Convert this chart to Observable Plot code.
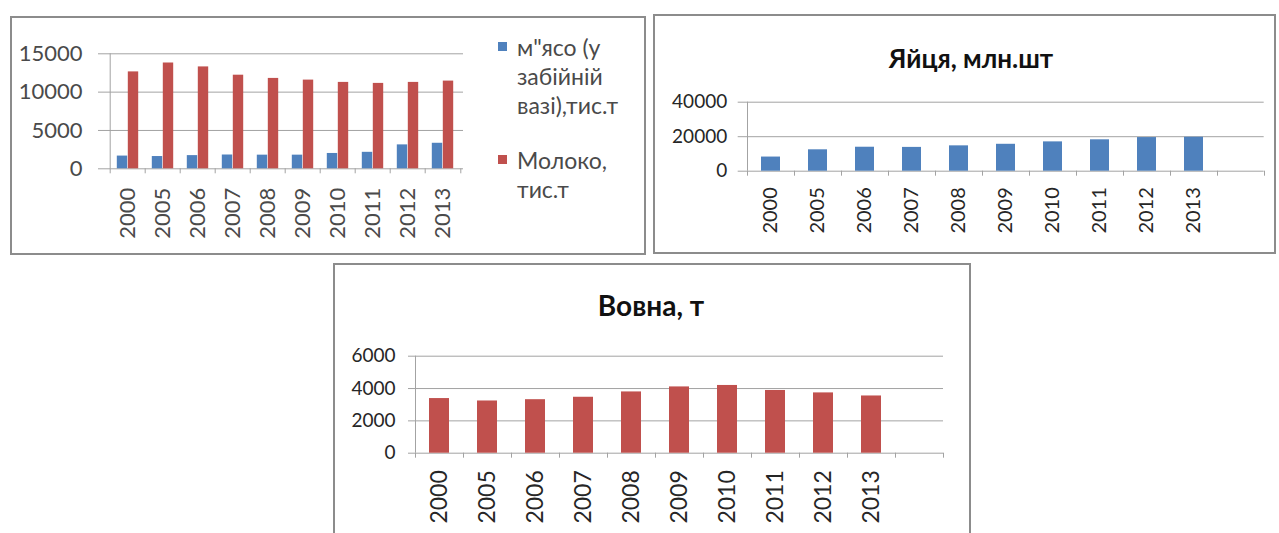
<!DOCTYPE html>
<html>
<head>
<meta charset="utf-8">
<script src="https://cdn.jsdelivr.net/npm/d3@7"></script>
<script src="https://cdn.jsdelivr.net/npm/@observablehq/plot@0.6"></script>
<style>
  html, body { margin: 0; padding: 0; background: #fff; }
  body { width: 1279px; height: 533px; overflow: hidden; position: relative; font-family: Lato, sans-serif; }
  .frame { position: absolute; border: 2px solid #8c8c8c; box-sizing: border-box; background: #fff; }
  .abs { position: absolute; }
  .legend { position: absolute; font-family: Lato, sans-serif; font-size: 23px; line-height: 29px; color: #4a4a4a; white-space: nowrap; }
  .swatch { position: absolute; width: 9px; height: 9px; }
  .title { position: absolute; font-family: Lato, sans-serif; font-weight: bold; color: #111; text-align: center; white-space: nowrap; }
</style>
</head>
<body>
<script>
// ---------- data ----------
const years = ["2000", "2005", "2006", "2007", "2008", "2009", "2010", "2011", "2012", "2013"];
const meat  = [1660, 1600, 1720, 1800, 1780, 1780, 2000, 2150, 3120, 3330];      // м"ясо, тис.т
const milk  = [12640, 13800, 13290, 12210, 11790, 11570, 11270, 11140, 11270, 11440]; // молоко, тис.т
const eggs  = [8200, 12400, 13900, 13800, 14700, 15600, 17000, 18200, 19500, 19700];  // яйця, млн.шт
const wool  = [3380, 3230, 3310, 3460, 3790, 4100, 4190, 3880, 3730, 3540];          // вовна, т

const meatLabel = ["м\"ясо (у", "забійній", "вазі),тис.т"];
const milkLabel = ["Молоко,", "тис.т"];
const eggsTitle = "Яйця, млн.шт";
const woolTitle = "Вовна, т";

const ticks1 = [0, 5000, 10000, 15000];
const ticks2 = [0, 20000, 40000];
const ticks3 = [0, 2000, 4000, 6000];

const blue = "#4f81bd", red = "#c0504d", grid = "#a3a3a3";

// ---------- helpers ----------
function place(node, left, top) {
  const d = document.createElement("div");
  d.className = "abs";
  d.style.left = left + "px";
  d.style.top = top + "px";
  d.appendChild(node);
  document.body.appendChild(d);
}
function frame(left, top, w, h) {
  const d = document.createElement("div");
  d.className = "frame";
  Object.assign(d.style, {left: left + "px", top: top + "px", width: w + "px", height: h + "px"});
  document.body.appendChild(d);
}
function textBlock(cls, lines, left, top, extra) {
  const d = document.createElement("div");
  d.className = cls;
  d.style.left = left + "px";
  d.style.top = top + "px";
  Object.assign(d.style, extra || {});
  lines.forEach((t, i) => { if (i) d.appendChild(document.createElement("br")); d.appendChild(document.createTextNode(t)); });
  document.body.appendChild(d);
}
function swatch(color, left, top) {
  const d = document.createElement("div");
  d.className = "swatch";
  Object.assign(d.style, {left: left + "px", top: top + "px", background: color});
  document.body.appendChild(d);
}
function frameMarks(domain, step, ymax) {
  return [
    Plot.ruleX([domain[0]], {x: d => d, dx: -step / 2, y1: 0, y2: ymax, stroke: grid}),
    Plot.ruleX(domain, {x: d => d, dx: -step / 2, y1: 0, y2: 0, insetBottom: -5, stroke: grid}),
    Plot.ruleX([domain[domain.length - 1]], {x: d => d, dx: step / 2, y1: 0, y2: 0, insetBottom: -5, stroke: grid})
  ];
}

// ---------- frames ----------
frame(10, 16, 636, 239);
frame(653, 14, 623, 240);
frame(333, 263, 638, 280);

// ---------- chart 1: meat & milk ----------
{
  const W = 460, H = 238, ml = 97, mr = 7, mt = 37.3, mb = 85.7;
  const step = (W - ml - mr) / years.length;
  const bw = 11, gap = (step - 2 * bw) / 2;
  const rows = years.map((y, i) => ({year: y, meat: meat[i], milk: milk[i]}));
  const p = Plot.plot({
    width: W, height: H, marginLeft: ml, marginRight: mr, marginTop: mt, marginBottom: mb,
    style: {fontFamily: "Lato, sans-serif", background: "transparent", overflow: "visible"},
    x: {domain: years, padding: 0, label: null},
    y: {domain: [0, 15000], label: null},
    marks: [
      Plot.ruleY(ticks1, {stroke: grid, insetLeft: -9}),
      ...frameMarks(years, step, 15000),
      Plot.barY(rows, {x: "year", y: "meat", fill: blue, insetLeft: gap, insetRight: step / 2}),
      Plot.barY(rows, {x: "year", y: "milk", fill: red, insetLeft: step / 2, insetRight: gap}),
      Plot.axisY(ticks1, {label: null, tickSize: 0, tickPadding: 25, tickFormat: d => String(d), fontSize: 22, color: "#4a4a4a"}),
      Plot.axisX(years, {label: null, tickSize: 0, tickPadding: 19, tickRotate: -90, fontSize: 22, color: "#4a4a4a"})
    ]
  });
  place(p, 10, 16);
  swatch(blue, 498, 42);
  textBlock("legend", meatLabel, 517, 33);
  swatch(red, 498, 155);
  textBlock("legend", milkLabel, 517, 146);
}

// ---------- chart 2: eggs ----------
{
  const W = 620, H = 240, ml = 93.7, mr = 9.3, mt = 87.7, mb = 83.3;
  const domain = [...years, ""];
  const step = (W - ml - mr) / domain.length;
  const bw = 19, gap = (step - bw) / 2;
  const rows = years.map((y, i) => ({year: y, value: eggs[i]}));
  const p = Plot.plot({
    width: W, height: H, marginLeft: ml, marginRight: mr, marginTop: mt, marginBottom: mb,
    style: {fontFamily: "Lato, sans-serif", background: "transparent", overflow: "visible"},
    x: {domain, padding: 0, label: null},
    y: {domain: [0, 40000], label: null},
    marks: [
      Plot.ruleY(ticks2, {stroke: grid, insetLeft: -9}),
      ...frameMarks(domain, step, 40000),
      Plot.barY(rows, {x: "year", y: "value", fill: blue, insetLeft: gap, insetRight: gap}),
      Plot.axisY(ticks2, {label: null, tickSize: 0, tickPadding: 20, tickFormat: d => String(d), fontSize: 19, color: "#262626"}),
      Plot.axisX(years, {label: null, tickSize: 0, tickPadding: 16, tickRotate: -90, fontSize: 20, color: "#262626"})
    ]
  });
  place(p, 653, 14);
  textBlock("title", [eggsTitle], 821, 45, {width: "300px", fontSize: "26px", lineHeight: "26px"});
}

// ---------- chart 3: wool ----------
{
  const W = 636, H = 270, ml = 82, mr = 26, mt = 92.7, mb = 80.3;
  const domain = [...years, ""];
  const step = (W - ml - mr) / domain.length;
  const bw = 20, gap = (step - bw) / 2;
  const rows = years.map((y, i) => ({year: y, value: wool[i]}));
  const p = Plot.plot({
    width: W, height: H, marginLeft: ml, marginRight: mr, marginTop: mt, marginBottom: mb,
    style: {fontFamily: "Lato, sans-serif", background: "transparent", overflow: "visible"},
    x: {domain, padding: 0, label: null},
    y: {domain: [0, 6000], label: null},
    marks: [
      Plot.ruleY(ticks3, {stroke: grid, insetLeft: -7}),
      ...frameMarks(domain, step, 6000),
      Plot.barY(rows, {x: "year", y: "value", fill: red, insetLeft: gap, insetRight: gap}),
      Plot.axisY(ticks3, {label: null, tickSize: 0, tickPadding: 20, tickFormat: d => String(d), fontSize: 19, color: "#262626"}),
      Plot.axisX(years, {label: null, tickSize: 0, tickPadding: 17, tickRotate: -90, fontSize: 23, color: "#262626"})
    ]
  });
  place(p, 333, 263);
  textBlock("title", [woolTitle], 501, 291, {width: "300px", fontSize: "28px", lineHeight: "28px"});
}
</script>
</body>
</html>
